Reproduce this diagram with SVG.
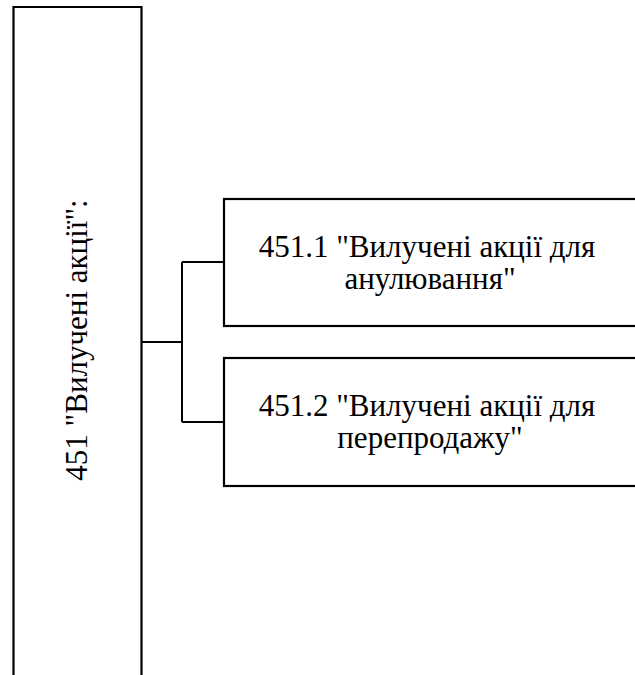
<svg xmlns="http://www.w3.org/2000/svg" width="635" height="675" viewBox="0 0 635 675">
<style>
.box{fill:#fff;stroke:#000;stroke-width:2.2}
.ln{fill:none;stroke:#000;stroke-width:2}
.t{font-family:'Liberation Serif','Times New Roman',serif;font-size:31px;fill:#000;text-anchor:middle}
</style>
<rect width="635" height="675" fill="#fff"/>
<g id="node-451">
<path class="box" d="M13.5,680 V7 H141.5 V680"/>
<text class="t" transform="translate(86.5,340) rotate(-90)">451 "Вилучені акції":</text>
</g>
<g id="node-451-1">
<rect class="box" x="224" y="199" width="430" height="127"/>
<text class="t" x="427" y="257">451.1 "Вилучені акції для</text>
<text class="t" x="430" y="289">анулювання"</text>
</g>
<g id="node-451-2">
<rect class="box" x="224" y="358" width="430" height="128"/>
<text class="t" x="427" y="416">451.2 "Вилучені акції для</text>
<text class="t" x="430" y="448">перепродажу"</text>
</g>
<g id="connectors">
<path class="ln" d="M141.5,342 H182 M182,262 V422 M182,262 H224 M182,422 H224"/>
</g>
</svg>
